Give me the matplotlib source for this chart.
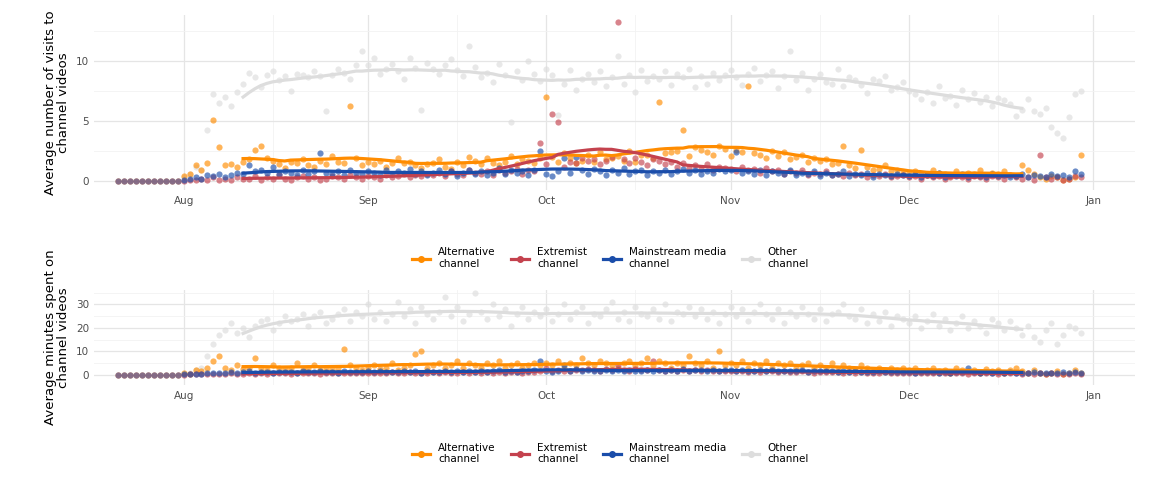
import numpy as np
import pandas as pd
import matplotlib
matplotlib.use("Agg")
import matplotlib.pyplot as plt
import matplotlib.dates as mdates
from matplotlib.lines import Line2D

pre_dates = pd.date_range("2019-07-21", "2019-07-31")
dates = pd.date_range("2019-08-01", "2019-12-30")

top_other = [0.3,0.6,1.2,0.9,4.2,7.2,6.5,7.0,6.2,7.4,8.1,9.0,8.6,7.8,8.8,9.1,8.4,8.7,7.5,8.9,8.8,8.6,9.1,8.7,5.8,8.8,9.3,9.0,8.5,9.6,10.8,
             9.6,10.2,8.9,9.3,9.7,9.1,8.5,10.2,9.4,5.9,9.8,9.3,8.9,9.6,10.1,9.2,8.7,11.2,9.5,8.6,9.0,8.2,9.7,8.8,4.9,9.1,8.4,10.0,8.9,8.3,
             9.3,8.8,5.5,8.1,9.2,7.6,8.5,8.9,8.2,9.1,7.9,8.6,10.4,8.1,8.8,7.4,9.2,8.3,8.7,8.5,9.1,8.0,8.9,8.6,9.3,7.8,8.7,8.1,9.0,8.4,8.8,
             9.2,8.6,8.0,8.9,9.4,8.3,8.8,9.1,7.7,8.7,10.8,8.4,9.0,7.6,8.5,8.9,8.2,8.1,9.3,7.9,8.6,8.4,8.0,7.3,8.5,8.3,8.7,7.6,7.8,8.2,
             7.5,7.2,6.8,7.4,6.5,7.9,6.9,7.1,6.3,7.6,6.8,7.3,6.6,7.0,6.2,6.9,6.7,6.4,5.4,5.9,6.8,5.8,5.6,6.1,4.5,4.0,3.6,5.3,7.2,7.5]
top_alt = [0.4,0.6,1.3,0.9,1.5,5.1,2.8,1.3,1.4,1.2,1.6,1.8,2.6,2.9,1.9,1.7,1.4,1.1,1.6,1.5,1.8,1.3,1.2,1.7,1.4,2.1,1.6,1.5,6.2,1.9,1.3,
           1.6,1.4,1.7,1.2,1.5,1.9,1.5,1.6,1.3,1.1,1.4,1.5,1.8,1.2,1.0,1.6,1.3,2.0,1.7,1.4,1.9,1.5,1.3,1.6,2.1,1.4,1.8,1.7,1.5,1.9,
           7.0,2.0,1.6,2.3,1.9,1.5,1.7,2.2,1.6,2.4,1.8,1.9,2.1,1.7,2.5,1.6,2.2,2.2,1.9,6.6,2.3,2.4,2.5,4.2,2.1,2.8,2.6,2.4,2.2,2.9,2.7,
           2.1,2.6,2.4,7.9,2.3,2.2,1.9,2.5,2.1,2.4,1.8,2.0,2.2,1.6,1.9,1.7,1.8,1.4,1.5,2.9,1.3,1.1,2.6,1.2,0.9,1.0,1.3,0.8,0.9,0.7,
           0.7,0.8,0.6,0.5,0.9,0.7,0.6,0.4,0.8,0.5,0.7,0.6,0.9,0.5,0.7,0.6,0.8,0.5,0.4,1.3,0.9,0.6,0.3,0.2,0.4,0.3,0.1,0.2,0.3,2.2]
top_ext = [0.0,0.1,0.1,0.2,0.1,0.3,0.1,0.2,0.1,0.3,0.2,0.2,0.4,0.1,0.3,0.2,0.5,0.2,0.1,0.3,0.4,0.2,0.3,0.1,0.2,0.4,0.3,0.2,0.5,0.3,0.2,
           0.4,0.3,0.2,0.5,0.3,0.4,0.6,0.3,0.5,0.4,0.6,0.5,0.7,0.4,0.8,0.6,0.5,0.9,0.7,0.6,0.8,0.5,0.9,0.7,0.8,1.0,0.6,0.9,0.8,3.2,
           1.4,5.6,4.9,1.2,1.6,1.5,1.9,1.7,1.8,1.4,1.7,2.0,13.2,1.8,1.5,1.9,1.6,1.3,1.8,1.7,1.4,1.6,1.2,1.5,1.1,1.3,1.0,1.4,0.9,1.2,1.1,
           1.0,0.8,1.2,0.9,1.0,0.7,1.1,0.8,0.9,0.6,0.8,0.7,0.9,0.5,0.7,0.6,0.8,0.5,0.6,0.4,0.7,0.5,0.6,0.3,0.5,0.4,0.6,0.3,0.4,0.5,
           0.3,0.4,0.2,0.5,0.3,0.4,0.2,0.3,0.5,0.3,0.2,0.4,0.3,0.2,0.4,0.3,0.2,0.5,0.3,0.2,0.3,0.1,2.2,0.3,0.2,0.3,0.1,0.2,0.4,0.3]
top_main = [0.1,0.2,0.3,0.2,0.5,0.4,0.6,0.3,0.5,0.7,0.6,1.3,0.8,0.9,0.7,1.2,0.6,0.8,0.7,0.5,0.9,0.6,0.8,2.3,0.7,0.6,0.8,0.5,0.9,0.7,0.6,
            0.8,0.7,0.5,0.9,0.6,0.8,0.7,1.0,0.6,0.8,0.5,0.7,0.9,0.6,0.8,0.4,0.7,0.9,0.6,0.8,0.5,0.7,1.1,0.6,0.9,0.7,0.8,0.5,0.9,2.5,
            0.6,0.4,0.8,1.9,0.7,2.0,0.9,0.6,1.0,0.8,0.5,0.9,0.7,1.1,0.6,0.8,0.9,0.5,0.8,0.7,0.9,0.6,0.8,1.0,0.7,0.9,0.6,0.8,0.7,1.0,0.8,
            0.9,2.4,0.7,0.8,0.6,0.9,0.5,0.8,0.7,0.6,0.9,0.5,0.7,0.6,0.8,0.4,0.7,0.5,0.6,0.8,0.4,0.6,0.5,0.7,0.3,0.6,0.5,0.4,0.6,0.5,
            0.4,0.6,0.3,0.5,0.4,0.7,0.3,0.5,0.4,0.6,0.3,0.5,0.4,0.3,0.6,0.4,0.5,0.3,0.4,0.6,0.3,0.5,0.4,0.3,0.6,0.4,0.5,0.3,0.8,0.6]

bot_other = [0.5,1,2,3,8,13,17,19,22,18,20,16,21,23,24,19,22,25,23,24,26,21,25,27,22,24,26,28,23,27,25,
             30,24,27,23,26,31,25,28,22,29,26,24,27,33,25,29,23,26,35,27,24,30,25,28,21,26,29,24,27,25,
             28,23,26,30,24,27,29,22,26,25,28,31,24,27,23,29,26,25,28,24,30,23,27,26,29,25,28,24,27,22,26,
             29,25,28,23,27,30,26,24,28,22,27,25,29,26,24,28,23,26,27,30,25,24,28,22,26,23,27,21,25,24,
             22,25,20,23,26,21,24,19,22,25,20,23,21,18,24,22,19,23,20,17,21,16,14,19,22,13,17,21,20,18]
bot_alt = [1,0.5,2,1.5,3,6,8,3,2,4,2.5,3,7,3,2,4,3,2.5,3,5,2,3,4,2,3,2.5,3,11,4,3,2,
           3,4,2.5,3,5,2,3,4,9,10,3,4,5,3,4,6,3,5,4,3,5,4,6,3,4,5,3,4,5,4,
           5,4,6,3,5,4,7,5,4,6,5,4,3,5,6,4,5,7,4,6,5,3,5,4,8,5,4,6,3,10,4,
           5,4,6,3,5,4,6,3,5,4,5,3,4,5,3,4,3,5,2,4,3,2,4,3,2,3,2,3,2,3,
           2,3,1.5,2,3,1.5,2,1,3,2,1.5,2,1,2.5,1.5,2,1,2,3,1.5,1,2,1,0.5,1,1.5,0.5,1,2,1]
bot_ext = [0.1,0.2,0.3,0.2,0.4,0.3,0.5,0.4,0.6,0.3,0.5,0.7,0.4,0.6,0.5,0.8,0.6,0.7,0.5,0.9,0.6,0.8,0.7,0.5,0.9,0.6,0.8,0.7,1.0,0.6,0.8,
           0.9,0.7,1.0,0.8,1.1,0.6,0.9,1.2,0.8,1.0,0.7,1.1,0.9,1.3,0.8,1.0,1.2,0.9,1.1,0.8,1.3,1.0,1.2,0.9,1.4,1.1,1.0,1.3,1.2,1.5,
           3,1.5,2,1.8,1.6,2.2,1.9,2.5,2.1,1.7,2.3,2.0,4,2.2,1.8,2.4,1.9,2.1,6,2.0,1.7,2.2,1.8,2.0,1.6,1.9,1.7,2.1,1.5,1.8,1.6,
           1.7,1.5,1.8,1.4,1.6,1.3,1.7,1.5,1.2,1.6,1.4,1.1,1.5,1.3,1.0,1.4,1.2,1.1,1.3,0.9,1.2,1.0,1.1,0.8,1.0,0.9,1.1,0.7,0.9,1.0,
           0.8,0.9,0.7,1.0,0.6,0.8,0.9,0.7,0.6,0.8,0.5,0.7,0.9,0.6,0.8,0.5,0.7,0.6,0.8,0.5,0.6,0.4,0.7,0.5,0.6,0.4,0.5,0.3,0.6,0.4]
bot_main = [0.2,0.4,0.5,0.3,0.8,0.6,1.0,0.7,1.2,0.9,1.1,1.5,1.0,1.3,1.2,0.9,1.4,1.1,1.3,1.0,1.5,1.2,1.4,1.6,1.1,1.3,1.0,1.5,1.2,1.4,1.3,
            1.5,1.2,1.6,1.1,1.4,1.3,1.7,1.2,1.5,1.0,1.6,1.3,1.4,1.8,1.2,1.5,1.3,1.7,1.4,1.6,1.2,1.5,1.9,1.3,1.6,1.4,1.7,1.5,2.0,6,
            1.6,1.4,1.8,4,1.5,2.5,1.7,1.9,1.5,1.8,2.0,1.6,1.9,1.7,2.1,1.5,1.8,2.2,1.6,1.9,1.7,2.0,1.8,2.3,1.6,1.9,2.1,1.7,2.0,1.8,2.2,
            1.9,1.6,2.0,1.8,1.5,1.9,1.7,2.1,1.6,1.8,1.5,1.7,1.9,1.4,1.6,1.8,1.5,1.7,1.3,1.6,1.4,1.5,1.2,1.4,1.3,1.5,1.1,1.3,1.2,1.4,
            1.2,1.0,1.3,1.1,1.4,0.9,1.2,1.0,1.3,1.1,3,1.2,0.9,1.1,1.0,1.2,0.8,1.1,0.9,1.0,0.8,1.2,0.9,0.7,1.0,0.8,1.1,0.9,1.2,1.0]

labels = ["Alternative\nchannel", "Extremist\nchannel", "Mainstream media\nchannel", "Other\nchannel"]
colors = ["#FF8C00", "#C4424E", "#1A4DAA", "#DDDDDD"]

fig = plt.figure(figsize=(11.52, 4.8), dpi=100)
ax1 = fig.add_axes([0.082, 0.604, 0.903, 0.365])
ax2 = fig.add_axes([0.082, 0.198, 0.903, 0.198])


def draw(ax, series, ylab, ylim, yticks):
    # draw "other" first so it sits below
    order = [3, 0, 1, 2]
    for i in order:
        s = pd.Series(series[i], index=dates)
        ax.scatter(dates, s.values, s=20, color=colors[i], alpha=0.65, lw=0, zorder=2)
        ax.scatter(pre_dates, np.zeros(len(pre_dates)), s=20, color=colors[i], alpha=0.45, lw=0, zorder=2)
    for i in order:
        s = pd.Series(series[i], index=dates)
        sm = s.rolling(21, center=True, win_type="gaussian").mean(std=6)
        ax.plot(dates, sm.values, color=colors[i], lw=2.3, zorder=3)
    ax.set_xlim(pd.Timestamp("2019-07-17"), pd.Timestamp("2020-01-08"))
    ax.set_ylim(*ylim)
    ax.set_yticks(yticks)
    ax.xaxis.set_major_locator(mdates.MonthLocator())
    ax.xaxis.set_major_formatter(mdates.DateFormatter("%b"))
    ax.xaxis.set_minor_locator(mdates.MonthLocator(bymonthday=16))
    step = yticks[1] - yticks[0]
    ax.set_yticks([t + step / 2 for t in yticks], minor=True)
    ax.grid(which="major", color="#E5E5E5", lw=0.9)
    ax.grid(which="minor", color="#F2F2F2", lw=0.6)
    ax.set_axisbelow(True)
    for sp in ax.spines.values():
        sp.set_visible(False)
    ax.tick_params(which="both", length=0, labelsize=7.5, colors="#4D4D4D", pad=4)
    ax.set_ylabel(ylab, fontsize=9.5, color="black", linespacing=1.0)


draw(ax1, [top_alt, top_ext, top_main, top_other], "Average number of visits to\nchannel videos", (-0.75, 13.8), [0, 5, 10])
draw(ax2, [bot_alt, bot_ext, bot_main, bot_other], "Average minutes spent on\nchannel videos", (-4.3, 36.2), [0, 10, 20, 30])

handles = [Line2D([], [], color=c, lw=2.3, marker="o", ms=4) for c in colors]
for y in [0.462, 0.055]:
    fig.legend(handles, labels, loc="center", bbox_to_anchor=(0.53, y), ncol=4, frameon=False,
               fontsize=7.5, handlelength=1.7, columnspacing=1.5, handletextpad=0.8)

fig.savefig("out.png", dpi=100)
